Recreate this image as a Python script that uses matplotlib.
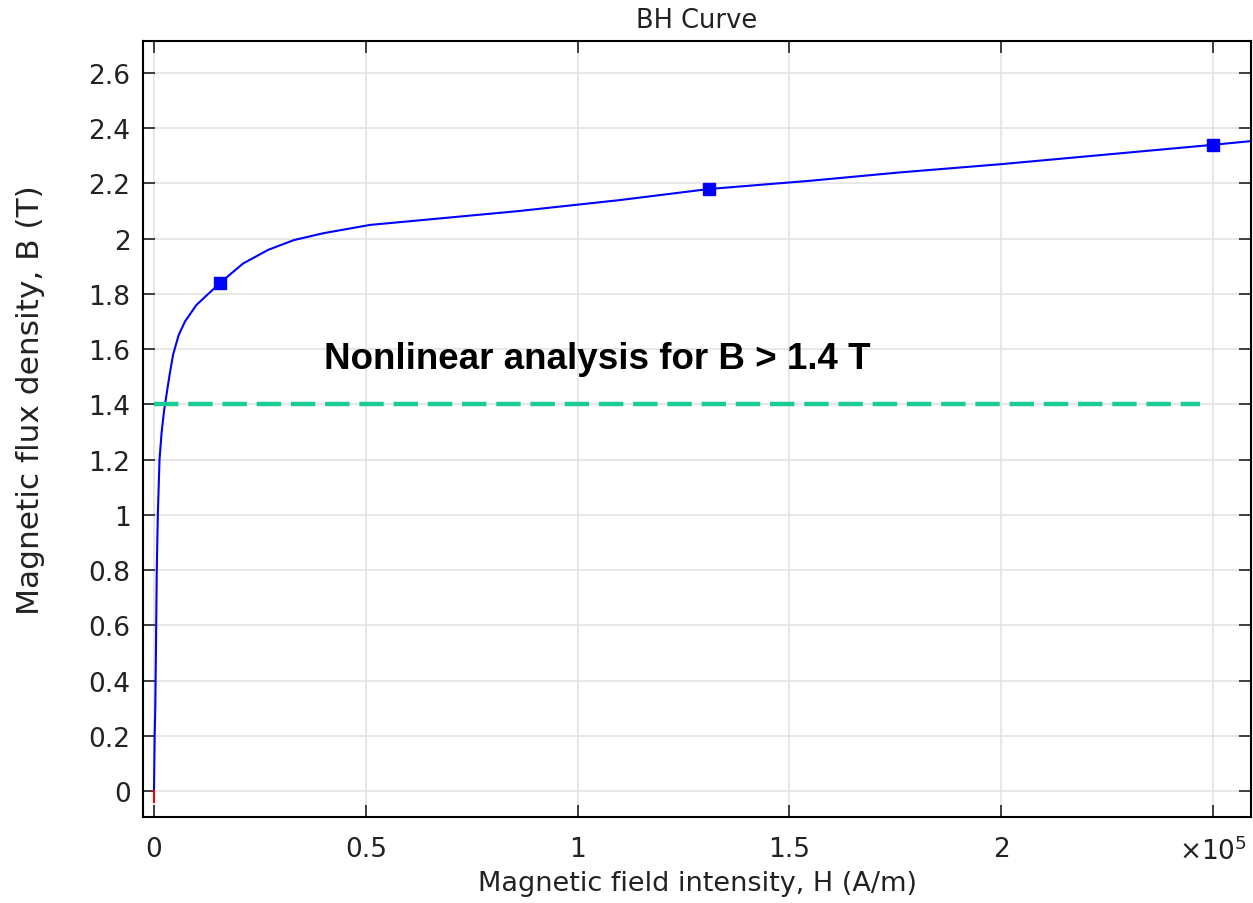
import numpy as np
import matplotlib.pyplot as plt
from matplotlib.ticker import FuncFormatter, MultipleLocator

# BH curve (H in A/m, B in T)
H = [0, 150, 300, 450, 650, 900, 1300, 1800, 2400, 2900, 3600, 4500, 5800, 7300,
     10000, 15600, 21000, 27000, 33000, 40000, 51000, 65000, 86000, 110000,
     131000, 155000, 176000, 200000, 225000, 250000, 260000]
B = [0, 0.2, 0.3, 0.5, 0.8, 1.0, 1.2, 1.3, 1.38, 1.43, 1.5, 1.58, 1.65, 1.7,
     1.76, 1.84, 1.91, 1.96, 1.995, 2.02, 2.05, 2.07, 2.10, 2.14,
     2.18, 2.21, 2.24, 2.27, 2.305, 2.34, 2.355]
H_marks = [15600, 131000, 250000]
B_marks = [1.84, 2.18, 2.34]
B_limit = 1.4
limit_H = [0, 247000]

plt.rcParams['font.family'] = 'DejaVu Sans'
fig = plt.figure(figsize=(12.53, 9.04), dpi=100)
ax = fig.add_axes([143/1253, 1-818/904, (1251-143)/1253, (818-42)/904])

ax.plot(H, B, color='#0000ff', lw=1.5)
ax.plot(H_marks, B_marks, 's', color='#0000ff', ms=9)
ax.plot([0, 0], [-0.04, 0], color='red', lw=1.5)
ax.plot(limit_H, [B_limit, B_limit], '--', color='#19cc96', lw=3.2, dashes=(5.5, 2.2))
# annotation placed in figure pixels
fig.text(324/1253, 1-360/904, 'Nonlinear analysis for B > 1.4 T',
         fontsize=26.5, fontweight='bold', family='Liberation Sans', va='center', ha='left')

ax.set_xlim(-2600, 259000)
ax.set_ylim(-0.094, 2.716)
ax.xaxis.set_major_locator(MultipleLocator(50000))
ax.yaxis.set_major_locator(MultipleLocator(0.2))


def xfmt(v, pos):
    if abs(v - 250000) < 1:
        return r'$\times$10$^5$'
    return '%g' % (v / 1e5)


def yfmt(v, pos):
    return '%g' % round(v, 1)


ax.xaxis.set_major_formatter(FuncFormatter(xfmt))
ax.yaxis.set_major_formatter(FuncFormatter(yfmt))
ax.grid(True, color='#e3e3e3', lw=1.2)
ax.set_axisbelow(True)
ax.tick_params(direction='in', top=True, right=True, length=8.5, width=1.2,
               labelsize=19, pad=9, colors='#222222')
ax.tick_params(axis='x', pad=14)
for s in ax.spines.values():
    s.set_linewidth(1.5)

ax.set_title('BH Curve', fontsize=18.5, pad=10, color='#222222')
ax.set_xlabel('Magnetic field intensity, H (A/m)', fontsize=19.5, color='#222222', labelpad=4)
ax.set_ylabel('Magnetic flux density, B (T)', fontsize=22.5, color='#222222', labelpad=31)
ax.yaxis.label.set_y(0.539)

plt.savefig('out.png', dpi=100)
